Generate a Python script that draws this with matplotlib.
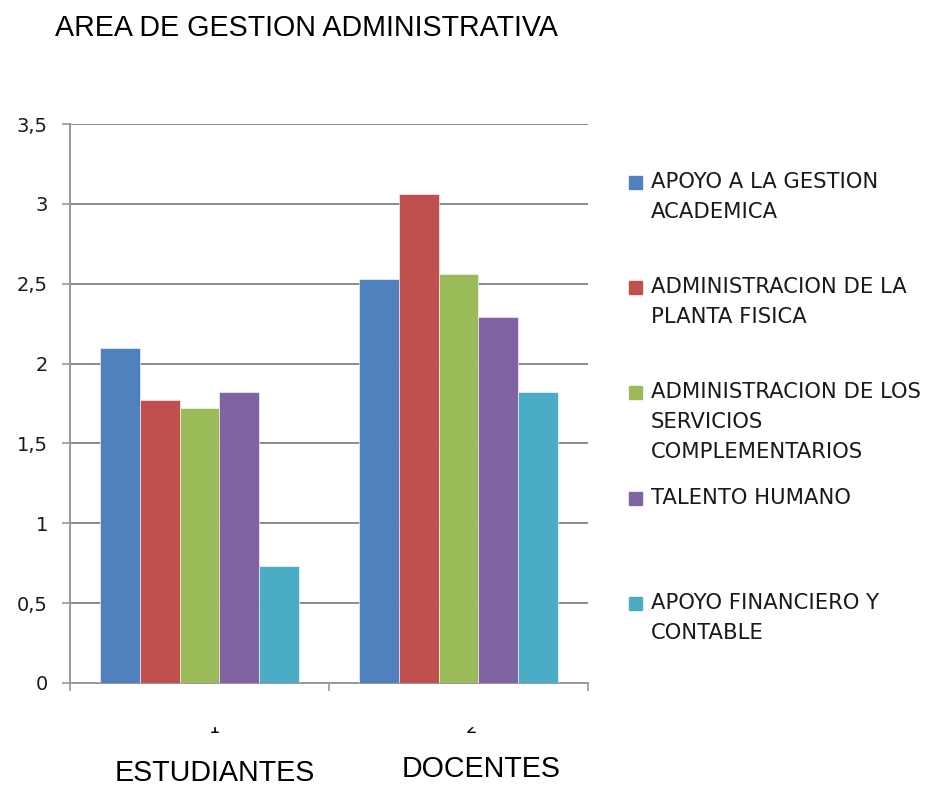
import matplotlib.pyplot as plt
import numpy as np
from matplotlib.patches import Rectangle

# values
groups = ["ESTUDIANTES", "DOCENTES"]
group_ticks = ["1", "2"]
series = [
    "APOYO A LA GESTION\nACADEMICA",
    "ADMINISTRACION DE LA\nPLANTA FISICA",
    "ADMINISTRACION DE LOS\nSERVICIOS\nCOMPLEMENTARIOS",
    "TALENTO HUMANO",
    "APOYO FINANCIERO Y\nCONTABLE",
]
estudiantes = [2.10, 1.77, 1.72, 1.82, 0.73]
docentes = [2.53, 3.06, 2.56, 2.29, 1.82]
colors = ["#4F81BD", "#C0504D", "#9BBB59", "#8064A2", "#4BACC6"]

W, H = 933, 786
fig = plt.figure(figsize=(W / 100, H / 100), dpi=100)
ax = fig.add_axes([70 / W, 1 - 683 / H, 518 / W, 559 / H])

values = np.array([estudiantes, docentes])  # (groups, series)
x = np.arange(1, len(groups) + 1)
bw = 1 / 6.5
for i, (name, col) in enumerate(zip(series, colors)):
    ax.bar(x + (i - 2) * bw, values[:, i], width=bw, color=col,
           edgecolor="white", linewidth=0.4, zorder=3)

ax.set_xlim(0.5, 2.5)
ax.set_ylim(0, 3.5)
ax.set_yticks(np.arange(0, 3.51, 0.5))
ax.set_yticklabels([f"{v:g}".replace(".", ",") for v in np.arange(0, 3.51, 0.5)])
ax.set_xticks([0.5, 1.5, 2.5])
ax.set_xticklabels([])
ax.grid(axis="y", color="#8c8c8c", linewidth=1.4, zorder=0)
for s in ["top", "right"]:
    ax.spines[s].set_visible(False)
for s in ["left", "bottom"]:
    ax.spines[s].set_color("#9a9a9a")
    ax.spines[s].set_linewidth(1.4)
ax.tick_params(axis="both", length=6, width=1.2, color="#9a9a9a")
ax.tick_params(axis="y", pad=10, labelsize=14, labelcolor="#1a1a1a")

# title
fig.text(55 / W, 1 - 28 / H, "AREA DE GESTION ADMINISTRATIVA",
         family="Liberation Sans", fontsize=20.6, va="center", ha="left")

# category tick numbers (partly hidden in the original) and group names
for xp, lab in zip([215, 471], group_ticks):
    fig.text(xp / W, 1 - 728 / H, lab, fontsize=13, ha="center", va="center")
fig.patches.append(Rectangle((60 / W, 1 - 726 / H), 540 / W, 30 / H,
                             transform=fig.transFigure, color="white", zorder=5))
for xp, yp, lab in zip([215, 481], [773, 769], groups):
    fig.text(xp / W, 1 - yp / H, lab, family="Liberation Sans", fontsize=20.6,
             ha="center", va="center")

# legend, one evenly spaced slot per series
for i, (name, col) in enumerate(zip(series, colors)):
    y0 = 182 + i * 105.2
    fig.patches.append(Rectangle((629 / W, 1 - (y0 + 7) / H), 13 / W, 13 / H,
                                 transform=fig.transFigure, color=col))
    for j, line in enumerate(name.split("\n")):
        fig.text(651 / W, 1 - (y0 + j * 30) / H, line, fontsize=15.2,
                 color="#1a1a1a", va="center", ha="left")

fig.savefig("out.png", dpi=100)
